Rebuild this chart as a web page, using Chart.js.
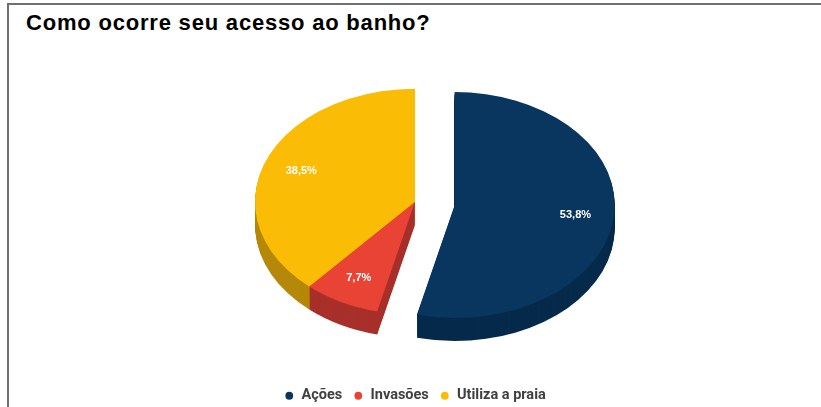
<!DOCTYPE html>
<html lang="pt-BR">
<head>
<meta charset="utf-8">
<title>Como ocorre seu acesso ao banho?</title>
<script src="https://cdn.jsdelivr.net/npm/chart.js@4.4.1/dist/chart.umd.min.js"></script>
<style>
  html, body { margin: 0; padding: 0; background: #fff; overflow: hidden; }
  body { width: 821px; height: 407px; position: relative; }
  .moldura {
    position: absolute; left: 7px; top: 3px; right: 0; bottom: -10px;
    border-left: 2px solid #707070; border-top: 2px solid #707070;
  }
  h1 {
    position: absolute; left: 26px; top: 12px; margin: 0;
    font: bold 22px/22px "Liberation Sans", Arial, sans-serif; letter-spacing: 0.8px; color: #000;
  }
  .area { position: absolute; left: 9px; top: 5px; width: 812px; height: 408px; }
</style>
</head>
<body>
<div class="moldura"></div>
<h1>Como ocorre seu acesso ao banho?</h1>
<div class="area"><canvas id="grafico"></canvas></div>
<script>
// dados
const categorias = ['Ações', 'Invasões', 'Utiliza a praia'];
const percentuais = [53.8, 7.7, 38.5];

// cores (topo e lateral)
const cores = ['#08365F', '#E94335', '#FBBC05'];
const coresLaterais = ['#062A4B', '#A8302A', '#B5880A'];

const formata = v => v.toFixed(1).replace('.', ',') + '%';

// desenha a pizza inclinada com espessura, usando os arcos calculados pelo Chart.js
const pizza3d = {
  id: 'pizza3d',
  beforeDatasetsDraw(chart, args, opts) {
    const ctx = chart.ctx;
    const arcs = chart.getDatasetMeta(0).data;
    if (!arcs.length) return;
    const cy = arcs[0].y;
    const k = opts.inclinacao;

    const centro = (arc, i) => {
      const meio = (arc.startAngle + arc.endAngle) / 2;
      const ex = opts.explodir[i] || 0;
      return { meio, x: arc.x + Math.cos(meio) * ex, y: arc.y + Math.sin(meio) * ex };
    };

    const fatia = (arc, i, desloc, cor) => {
      const c = centro(arc, i);
      ctx.save();
      ctx.translate(0, cy + desloc);
      ctx.scale(1, k);
      ctx.translate(0, -cy);
      ctx.beginPath();
      ctx.moveTo(c.x, c.y);
      ctx.arc(c.x, c.y, arc.outerRadius, arc.startAngle, arc.endAngle);
      ctx.closePath();
      ctx.fillStyle = cor;
      ctx.fill();
      ctx.restore();
    };

    // laterais, de baixo para cima
    for (let d = opts.espessura; d > 0; d--) {
      arcs.forEach((a, i) => fatia(a, i, d, opts.lateral[i]));
    }
    // topo
    arcs.forEach((a, i) => fatia(a, i, 0, a.options.backgroundColor));

    // rótulos de porcentagem
    ctx.save();
    ctx.font = 'bold 11px "Liberation Sans", Arial, sans-serif';
    ctx.fillStyle = '#fff';
    ctx.textAlign = 'center';
    ctx.textBaseline = 'middle';
    arcs.forEach((a, i) => {
      const c = centro(a, i);
      const r = a.outerRadius * 0.76;
      const x = c.x + Math.cos(c.meio) * r;
      const y = cy + (c.y + Math.sin(c.meio) * r - cy) * k;
      ctx.fillText(formata(percentuais[i]), x, y);
    });
    ctx.restore();

    return false;
  }
};

const ctx = document.getElementById('grafico');
new Chart(ctx, {
  type: 'pie',
  data: {
    labels: categorias,
    datasets: [{
      data: percentuais,
      backgroundColor: cores,
      borderWidth: 0,
      radius: 160
    }]
  },
  options: {
    responsive: true,
    maintainAspectRatio: false,
    animation: false,
    events: [],
    layout: { padding: { top: 20.9, bottom: 0, left: 0, right: 0 } },
    plugins: {
      title: { display: false },
      tooltip: { enabled: false },
      legend: {
        position: 'bottom',
        labels: {
          usePointStyle: true,
          pointStyle: 'circle',
          boxWidth: 10,
          boxHeight: 5.5,
          padding: 11,
          color: '#404040',
          font: { family: 'Roboto', size: 14.5, weight: 'bold' }
        }
      },
      pizza3d: {
        inclinacao: 0.706,
        espessura: 23,
        explodir: [40, 0, 0],
        lateral: coresLaterais
      }
    }
  },
  plugins: [pizza3d]
});
</script>
</body>
</html>
